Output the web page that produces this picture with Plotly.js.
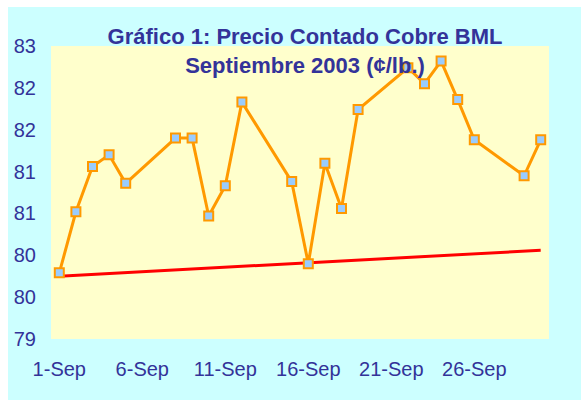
<!DOCTYPE html>
<html>
<head>
<meta charset="utf-8">
<script src="https://cdn.plot.ly/plotly-3.0.1.min.js"></script>
<style>
html,body{margin:0;padding:0;background:#ffffff;}
#chart{width:581px;height:400px;}
</style>
</head>
<body>
<div id="chart"></div>
<script>
// Data
var dates = ['2003-09-01','2003-09-02','2003-09-03','2003-09-04','2003-09-05',
             '2003-09-08','2003-09-09','2003-09-10','2003-09-11','2003-09-12',
             '2003-09-15','2003-09-16','2003-09-17','2003-09-18','2003-09-19',
             '2003-09-22','2003-09-23','2003-09-24','2003-09-25','2003-09-26',
             '2003-09-29','2003-09-30'];
var prices = [79.79,80.52,81.06,81.20,80.86,
              81.40,81.40,80.47,80.83,81.83,
              80.88,79.90,81.10,80.56,81.74,
              82.24,82.05,82.32,81.86,81.38,
              80.95,81.38];
var trendDates = ['2003-09-01','2003-09-30'];
var trendValues = [79.75, 80.06];

var xTickVals = ['2003-09-01','2003-09-06','2003-09-11','2003-09-16','2003-09-21','2003-09-26'];
var xTickText = ['1-Sep','6-Sep','11-Sep','16-Sep','21-Sep','26-Sep'];
var yTickVals = [79,79.5,80,80.5,81,81.5,82,82.5];
var yTickText = ['79','80','80','81','81','82','82','83'];

var titleText = 'Gráfico 1: Precio Contado Cobre BML<br>Septiembre 2003 (¢/lb.)';

var FONT = '"Liberation Sans", Arial, sans-serif';
var TXT = '#333399';

var traces = [
  {
    x: trendDates, y: trendValues, type: 'scatter', mode: 'lines',
    line: {color: '#ff0000', width: 3}, hoverinfo: 'skip', showlegend: false
  },
  {
    x: dates, y: prices, type: 'scatter', mode: 'lines+markers',
    line: {color: '#ff9900', width: 3},
    marker: {symbol: 'square', size: 9, color: '#99ccff', line: {color: '#ff9900', width: 2}},
    showlegend: false
  }
];

var W = 498, H = 293;
var layout = {
  width: 581, height: 400,
  margin: {l: 51, r: 32, t: 46, b: 61, pad: 0},
  paper_bgcolor: '#ccffff',
  plot_bgcolor: '#ffffcc',
  showlegend: false,
  font: {family: FONT, color: TXT, size: 20},
  title: {
    text: titleText,
    font: {family: FONT, size: 22, color: TXT, weight: 'bold'},
    xref: 'container', x: 305/581, xanchor: 'center',
    yref: 'container', y: 1 - 44/400, yanchor: 'top'
  },
  xaxis: {
    type: 'date',
    range: ['2003-08-31 12:00', '2003-09-30 12:00'],
    tickmode: 'array', tickvals: xTickVals, ticktext: xTickText,
    showgrid: false, zeroline: false, showline: false, ticks: '',
    ticklabelstandoff: 16,
    tickfont: {family: FONT, size: 20, color: TXT}
  },
  yaxis: {
    range: [79, 82.5],
    tickmode: 'array', tickvals: yTickVals, ticktext: yTickText,
    showgrid: false, zeroline: false, showline: false, ticks: '',
    ticklabelstandoff: 14,
    tickfont: {family: FONT, size: 20, color: TXT}
  },
  shapes: [
    {type: 'rect', xref: 'paper', yref: 'paper', layer: 'below',
     x0: -51/W, x1: (581-51)/W, y0: (339-7)/H, y1: 400/H,
     fillcolor: '#ffffff', line: {width: 0}},
    {type: 'rect', xref: 'paper', yref: 'paper', layer: 'below',
     x0: -51/W, x1: (8-51)/W, y0: -61/H, y1: 400/H,
     fillcolor: '#ffffff', line: {width: 0}}
  ]
};

Plotly.newPlot('chart', traces, layout, {displayModeBar: false, staticPlot: true});
</script>
</body>
</html>
